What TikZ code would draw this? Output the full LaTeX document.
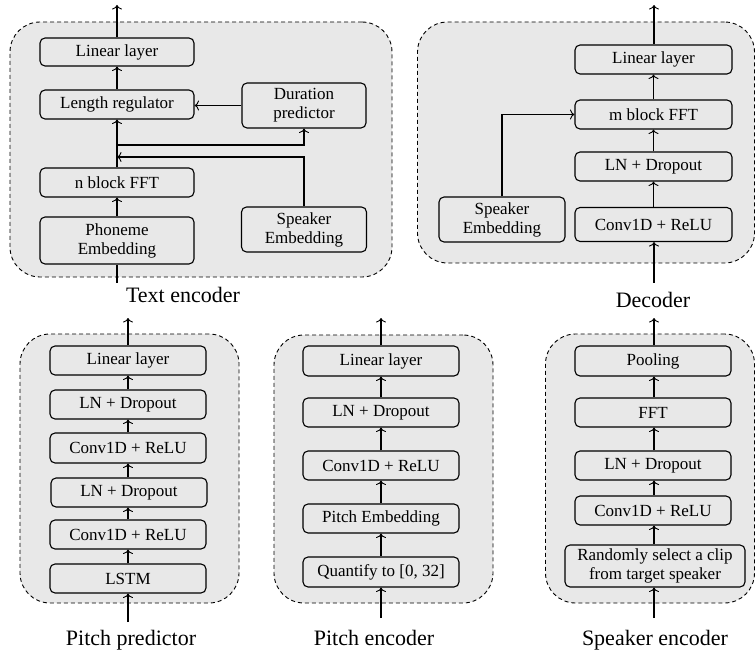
\documentclass[tikz,border=0pt]{standalone}
\usepackage{fontspec}
\setmainfont{Liberation Serif}
\usetikzlibrary{arrows.meta}
\definecolor{grpgray}{HTML}{E8E8E8}
\definecolor{boxgray}{HTML}{E8E8E8}
\newcommand{\bfs}{\fontsize{17}{19}\selectfont}
\newcommand{\tfs}{\fontsize{22}{26}\selectfont}
\tikzset{
  blk/.style={draw, rounded corners=5pt, fill=boxgray, line width=1.1pt, font=\bfs, align=center, inner sep=0pt},
  grp/.style={draw, dash pattern=on 4pt off 3pt, rounded corners=30pt, fill=grpgray, line width=0.9pt, inner sep=0pt},
  arr/.style={-{To[length=4.5pt,width=10pt,line width=0.9pt]}, line width=1.1pt},
  ln/.style={line width=1.1pt},
  ttl/.style={font=\tfs, anchor=base, inner sep=0pt}
}
\begin{document}
\begin{tikzpicture}[x=1pt,y=-1pt]
\useasboundingbox (0,0) rectangle (756,650);
% ---------------- containers
\node[grp, minimum width=382, minimum height=255] (gT) at (201,149.5) {};
\node[grp, minimum width=337, minimum height=241] (gD) at (586,142.5) {};
\node[grp, minimum width=219, minimum height=269] (gP) at (129.5,468.5) {};
\node[grp, minimum width=219, minimum height=268] (gE) at (383.5,469) {};
\node[grp, minimum width=209, minimum height=269] (gS) at (650,468.5) {};
% ---------------- Text encoder
\node[blk, minimum width=154, minimum height=28] (tll) at (117,52) {Linear layer};
\node[blk, minimum width=154, minimum height=29] (tlr) at (117,104.5) {Length regulator};
\node[blk, minimum width=124, minimum height=45] (tdp) at (304,105.5) {Duration\\predictor};
\node[blk, minimum width=154, minimum height=29] (tfft) at (117,182.5) {n block FFT};
\node[blk, minimum width=154, minimum height=47] (tpe) at (117,240.5) {Phoneme\\Embedding};
\node[blk, minimum width=125, minimum height=45] (tse) at (304,229.5) {Speaker\\Embedding};
\coordinate (tin) at (117,283);
\coordinate (tout) at (117,5);
\coordinate (tj1) at (117,145);
\coordinate (tj2) at (117,157);
\draw[ln] (tin) -- (tpe.south);
\draw[arr] (tpe) -- (tfft);
\draw[arr] (tfft) -- (tlr);
\draw[arr] (tj1) -| (tdp.south);
\draw[arr] (tse.north) |- (tj2);
\draw[arr] (tdp.west) -- (tdp.west -| tlr.east);
\draw[arr] (tlr) -- (tll);
\draw[arr] (tll) -- (tout);
\node[ttl] (tT) at (183,302) {Text encoder};
% ---------------- Decoder
\node[blk, minimum width=157, minimum height=29] (dll) at (653.5,59.5) {Linear layer};
\node[blk, minimum width=157, minimum height=29] (dfft) at (653.5,114.5) {m block FFT};
\node[blk, minimum width=157, minimum height=29] (dln) at (653.5,166.5) {LN + Dropout};
\node[blk, minimum width=157, minimum height=34] (dcv) at (653.5,224.5) {Conv1D + ReLU};
\node[blk, minimum width=126, minimum height=45] (dse) at (502,219.5) {Speaker\\Embedding};
\coordinate (din) at (654,283);
\coordinate (dout) at (654,5);
\draw[arr] (din) -- (din |- dcv.south);
\draw[arr] (dcv) -- (dln);
\draw[arr] (dln) -- (dfft);
\draw[arr] (dfft) -- (dll);
\draw[arr] (dll.north -| dout) -- (dout);
\draw[arr] (dse.north) |- (dfft.west);
\node[ttl] (tD) at (653,307) {Decoder};
% ---------------- Pitch predictor
\node[blk, minimum width=156, minimum height=29] (pll) at (128,360.5) {Linear layer};
\node[blk, minimum width=156, minimum height=29] (pln1) at (128,404.5) {LN + Dropout};
\node[blk, minimum width=156, minimum height=30] (pcv1) at (128,448) {Conv1D + ReLU};
\node[blk, minimum width=156, minimum height=29] (pln2) at (129,492.5) {LN + Dropout};
\node[blk, minimum width=156, minimum height=29] (pcv2) at (128,534.5) {Conv1D + ReLU};
\node[blk, minimum width=156, minimum height=29] (plstm) at (128,578.5) {LSTM};
\coordinate (pin) at (128,622);
\coordinate (pout) at (128,318);
\draw[arr] (pin) -- (plstm);
\draw[arr] (plstm) -- (pcv2);
\draw[arr] (pcv2) -- (pcv2.north |- pln2.south);
\draw[arr] (pln2.north -| pcv1) -- (pcv1);
\draw[arr] (pcv1) -- (pln1);
\draw[arr] (pln1) -- (pll);
\draw[arr] (pll) -- (pout);
\node[ttl] (tP) at (131,645) {Pitch predictor};
% ---------------- Pitch encoder
\node[blk, minimum width=156, minimum height=30] (ell) at (381,361) {Linear layer};
\node[blk, minimum width=156, minimum height=29] (eln) at (381,412.5) {LN + Dropout};
\node[blk, minimum width=156, minimum height=29] (ecv) at (381,465.5) {Conv1D + ReLU};
\node[blk, minimum width=156, minimum height=29] (epe) at (381,518.5) {Pitch Embedding};
\node[blk, minimum width=156, minimum height=30] (eq) at (381,572) {Quantify to [0, 32]};
\coordinate (ein) at (381,618);
\coordinate (eout) at (381,318);
\draw[arr] (ein) -- (eq);
\draw[arr] (eq) -- (epe);
\draw[arr] (epe) -- (ecv);
\draw[arr] (ecv) -- (eln);
\draw[arr] (eln) -- (ell);
\draw[arr] (ell) -- (eout);
\node[ttl] (tE) at (374,645) {Pitch encoder};
% ---------------- Speaker encoder
\node[blk, minimum width=156, minimum height=30] (spool) at (653,361) {Pooling};
\node[blk, minimum width=156, minimum height=29] (sfft) at (653,412.5) {FFT};
\node[blk, minimum width=156, minimum height=29] (sln) at (653,465.5) {LN + Dropout};
\node[blk, minimum width=156, minimum height=29] (scv) at (653,510.5) {Conv1D + ReLU};
\node[blk, minimum width=180, minimum height=42] (srand) at (655,566) {Randomly select a clip\\from target speaker};
\coordinate (sin) at (654,618);
\coordinate (sout) at (654,318);
\draw[arr] (sin) -- (sin |- srand.south);
\draw[arr] (srand.north -| sin) -- (sin |- scv.south);
\draw[arr] (scv.north -| sin) -- (sin |- sln.south);
\draw[arr] (sln.north -| sin) -- (sin |- sfft.south);
\draw[arr] (sfft.north -| sin) -- (sin |- spool.south);
\draw[arr] (spool.north -| sin) -- (sout);
\node[ttl] (tS) at (655,645) {Speaker encoder};
\end{tikzpicture}
\end{document}
